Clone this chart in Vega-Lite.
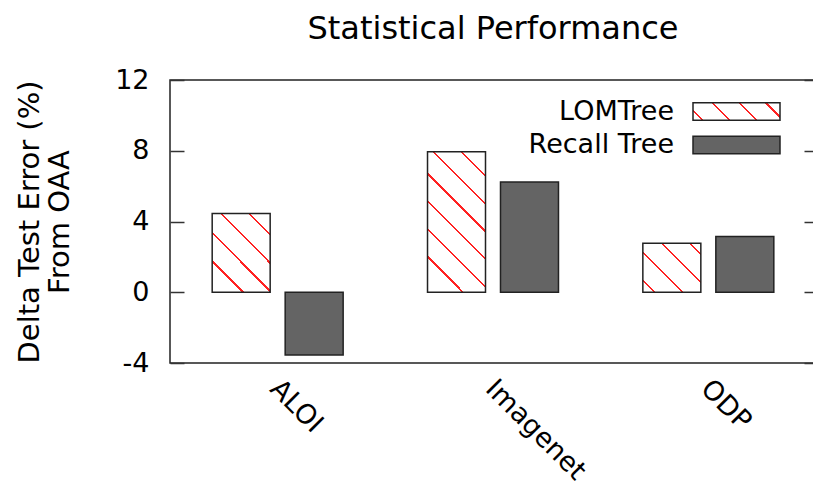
{
  "$schema": "https://vega.github.io/schema/vega-lite/v6.json",
  "width": 646,
  "height": 283,
  "autosize": "none",
  "padding": {"left": 170, "top": 80, "right": 0, "bottom": 123},
  "background": "white",
  "config": {
    "font": "DejaVu Sans",
    "view": {"stroke": "#222222", "strokeWidth": 1.5},
    "axis": {"grid": false, "labelColor": "#000000", "titleColor": "#000000", "tickColor": "#333333", "tickWidth": 1.5},
    "legend": {"labelFontSize": 27, "labelColor": "#000000"}
  },
  "title": {
    "text": "Statistical Performance",
    "fontSize": 32,
    "fontWeight": "normal",
    "color": "#000000",
    "frame": "group",
    "anchor": "middle",
    "offset": 20
  },
  "data": {
    "values": [
      {"cat": "ALOI", "series": "LOMTree", "v": 4.45},
      {"cat": "ALOI", "series": "Recall Tree", "v": -3.55},
      {"cat": "Imagenet", "series": "LOMTree", "v": 7.94},
      {"cat": "Imagenet", "series": "Recall Tree", "v": 6.23},
      {"cat": "ODP", "series": "LOMTree", "v": 2.77},
      {"cat": "ODP", "series": "Recall Tree", "v": 3.15}
    ]
  },
  "layer": [
    {
      "transform": [{"filter": "datum.series === 'LOMTree'"}],
      "mark": {"type": "bar", "strokeWidth": 1.5, "fillOpacity": 1},
      "encoding": {
        "x": {
          "field": "cat", "type": "nominal", "sort": ["ALOI", "Imagenet", "ODP"],
          "scale": {"domain": ["ALOI", "Imagenet", "ODP"], "paddingInner": 0, "paddingOuter": 0},
          "axis": {"title": null, "labelAngle": 45, "labelFontSize": 27, "ticks": false, "domain": false, "labelPadding": 12, "labelOffset": 6}
        },
        "xOffset": {
          "field": "series", "type": "nominal",
          "scale": {"domain": ["LOMTree", "Recall Tree"], "paddingInner": 0.2055, "paddingOuter": 0.578}
        },
        "y": {
          "field": "v", "type": "quantitative",
          "scale": {"domain": [-4, 12], "nice": false, "zero": false},
          "axis": {
            "values": [-4, 0, 4, 8, 12],
            "labelExpr": "datum.value + ''",
            "labelFontSize": 27,
            "tickSize": -14,
            "labelPadding": 35,
            "domain": false,
            "title": ["Delta Test Error (%)", "From OAA"],
            "titleFontSize": 29,
            "titleFontWeight": "normal",
            "titleLineHeight": 30,
            "titlePadding": 40
          }
        },
        "stroke": {
          "field": "series", "type": "nominal",
          "scale": {"domain": ["LOMTree"], "range": ["#222222"]},
          "legend": {
            "title": null,
            "orient": "none",
            "legendX": 522,
            "legendY": -13,
            "padding": 0,
            "symbolType": "M-1,-0.2L1,-0.2L1,0.2L-1,0.2Z",
            "symbolSize": 7569,
            "symbolStrokeWidth": 1.5,
            "symbolOpacity": 1,
            "labelAlign": "right",
            "labelOffset": -107,
            "labelLimit": 300
          }
        },
        "fill": {
          "condition": [
            {"test": "false", "value": {
              "gradient": "linear", "x1": 0, "y1": 1, "x2": 1.154, "y2": 0.769,
              "stops": [
                {"offset": 0, "color": "#ffffff"},
                {"offset": 0.0842, "color": "#ffffff"}, {"offset": 0.0842, "color": "#ff2222"}, {"offset": 0.1058, "color": "#ff2222"}, {"offset": 0.1058, "color": "#ffffff"},
                {"offset": 0.3402, "color": "#ffffff"}, {"offset": 0.3402, "color": "#ff2222"}, {"offset": 0.3618, "color": "#ff2222"}, {"offset": 0.3618, "color": "#ffffff"},
                {"offset": 0.5972, "color": "#ffffff"}, {"offset": 0.5972, "color": "#ff2222"}, {"offset": 0.6188, "color": "#ff2222"}, {"offset": 0.6188, "color": "#ffffff"},
                {"offset": 0.8532, "color": "#ffffff"}, {"offset": 0.8532, "color": "#ff2222"}, {"offset": 0.8748, "color": "#ff2222"}, {"offset": 0.8748, "color": "#ffffff"},
                {"offset": 1, "color": "#ffffff"}
              ]}},
            {"test": "datum.cat === 'ALOI'", "value": {
              "gradient": "linear", "x1": 0, "y1": 1, "x2": 0.8335, "y2": -0.1237,
              "stops": [
                {"offset": 0, "color": "#ffffff"},
                {"offset": 0.2193, "color": "#ffffff"}, {"offset": 0.2193, "color": "#ff2222"}, {"offset": 0.2359, "color": "#ff2222"}, {"offset": 0.2359, "color": "#ffffff"},
                {"offset": 0.4249, "color": "#ffffff"}, {"offset": 0.4249, "color": "#ff2222"}, {"offset": 0.4415, "color": "#ff2222"}, {"offset": 0.4415, "color": "#ffffff"},
                {"offset": 0.6305, "color": "#ffffff"}, {"offset": 0.6305, "color": "#ff2222"}, {"offset": 0.6471, "color": "#ff2222"}, {"offset": 0.6471, "color": "#ffffff"},
                {"offset": 0.8360, "color": "#ffffff"}, {"offset": 0.8360, "color": "#ff2222"}, {"offset": 0.8526, "color": "#ff2222"}, {"offset": 0.8526, "color": "#ffffff"},
                {"offset": 1, "color": "#ffffff"}
              ]}},
            {"test": "datum.cat === 'Imagenet'", "value": {
              "gradient": "linear", "x1": 0, "y1": 1, "x2": 0.5004, "y2": -0.207,
              "stops": [
                {"offset": 0, "color": "#ffffff"},
                {"offset": 0.1742, "color": "#ffffff"}, {"offset": 0.1742, "color": "#ff2222"}, {"offset": 0.1856, "color": "#ff2222"}, {"offset": 0.1856, "color": "#ffffff"},
                {"offset": 0.3137, "color": "#ffffff"}, {"offset": 0.3137, "color": "#ff2222"}, {"offset": 0.3251, "color": "#ff2222"}, {"offset": 0.3251, "color": "#ffffff"},
                {"offset": 0.4531, "color": "#ffffff"}, {"offset": 0.4531, "color": "#ff2222"}, {"offset": 0.4645, "color": "#ff2222"}, {"offset": 0.4645, "color": "#ffffff"},
                {"offset": 0.5926, "color": "#ffffff"}, {"offset": 0.5926, "color": "#ff2222"}, {"offset": 0.6040, "color": "#ff2222"}, {"offset": 0.6040, "color": "#ffffff"},
                {"offset": 0.7320, "color": "#ffffff"}, {"offset": 0.7320, "color": "#ff2222"}, {"offset": 0.7434, "color": "#ff2222"}, {"offset": 0.7434, "color": "#ffffff"},
                {"offset": 0.8715, "color": "#ffffff"}, {"offset": 0.8715, "color": "#ff2222"}, {"offset": 0.8829, "color": "#ff2222"}, {"offset": 0.8829, "color": "#ffffff"},
                {"offset": 1, "color": "#ffffff"}
              ]}},
            {"test": "datum.cat === 'ODP'", "value": {
              "gradient": "linear", "x1": 0, "y1": 1, "x2": 1.073, "y2": 0.086,
              "stops": [
                {"offset": 0, "color": "#ffffff"},
                {"offset": 0.1012, "color": "#ffffff"}, {"offset": 0.1012, "color": "#ff2222"}, {"offset": 0.1222, "color": "#ff2222"}, {"offset": 0.1222, "color": "#ffffff"},
                {"offset": 0.3619, "color": "#ffffff"}, {"offset": 0.3619, "color": "#ff2222"}, {"offset": 0.3829, "color": "#ff2222"}, {"offset": 0.3829, "color": "#ffffff"},
                {"offset": 0.6226, "color": "#ffffff"}, {"offset": 0.6226, "color": "#ff2222"}, {"offset": 0.6436, "color": "#ff2222"}, {"offset": 0.6436, "color": "#ffffff"},
                {"offset": 0.8834, "color": "#ffffff"}, {"offset": 0.8834, "color": "#ff2222"}, {"offset": 0.9044, "color": "#ff2222"}, {"offset": 0.9044, "color": "#ffffff"},
                {"offset": 1, "color": "#ffffff"}
              ]}}
          ]
        }
      }
    },
    {
      "transform": [{"filter": "datum.series === 'Recall Tree'"}],
      "mark": {"type": "bar", "stroke": "#222222", "strokeWidth": 1.5, "fillOpacity": 1},
      "encoding": {
        "x": {"field": "cat", "type": "nominal", "sort": ["ALOI", "Imagenet", "ODP"]},
        "xOffset": {"field": "series", "type": "nominal"},
        "y": {
          "field": "v", "type": "quantitative",
          "axis": {"orient": "right", "values": [-4, 0, 4, 8, 12], "labels": false, "domain": false, "tickSize": -12, "title": null}
        },
        "fill": {
          "field": "series", "type": "nominal",
          "scale": {"domain": ["Recall Tree"], "range": ["#646464"]},
          "legend": {
            "title": null,
            "orient": "none",
            "legendX": 522,
            "legendY": 20.5,
            "padding": 0,
            "symbolType": "M-1,-0.2L1,-0.2L1,0.2L-1,0.2Z",
            "symbolSize": 7569,
            "symbolStrokeColor": "#222222",
            "symbolStrokeWidth": 1.5,
            "symbolOpacity": 1,
            "labelAlign": "right",
            "labelOffset": -107,
            "labelLimit": 300
          }
        }
      }
    }
  ],
  "resolve": {"axis": {"y": "independent"}}
}
